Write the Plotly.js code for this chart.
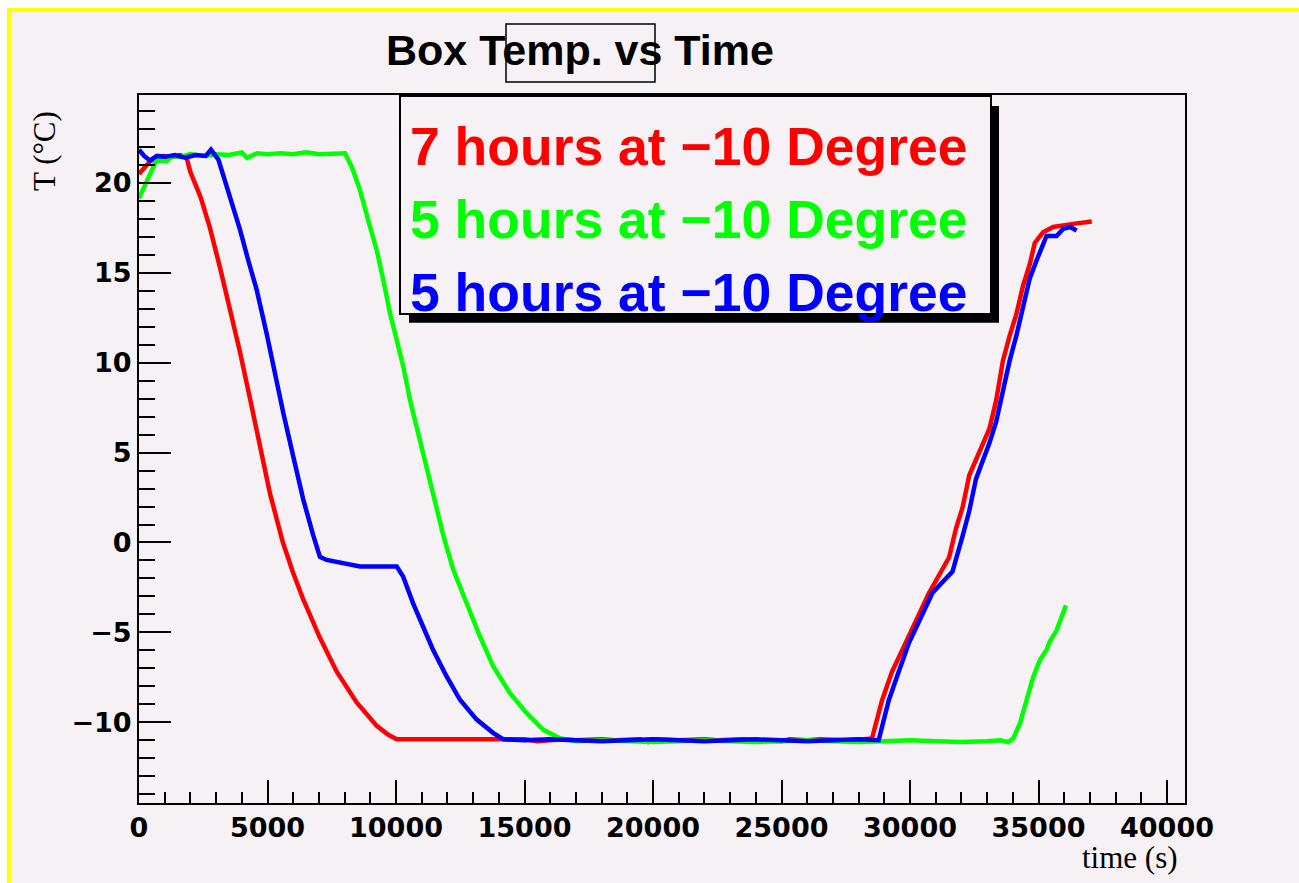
<!DOCTYPE html>
<html>
<head>
<meta charset="utf-8">
<script src="https://cdn.plot.ly/plotly-3.0.1.min.js"></script>
<style>html,body{margin:0;padding:0;background:#fff;}#chart{width:1299px;height:883px;}</style>
</head>
<body>
<div id="chart"></div>
<script>
// ---- data (time in s, temperature in °C) ----
const seriesNames = ["7 hours at \u221210 Degree", "5 hours at \u221210 Degree", "5 hours at \u221210 Degree"];
const seriesColors = ["#FF0000", "#00FF00", "#0000FF"];

const redTime = [0, 230, 430, 700, 950, 1300, 1600, 1850, 2000, 2400, 2760, 3150, 3600, 3930, 4320, 4710, 5100, 5600, 6000, 6400, 7040, 7700, 8470, 9250, 9700, 10030, 10500, 11000, 12000, 12500, 13500, 14000, 15000, 15500, 16500, 17000, 18000, 18500, 19500, 19800, 20000, 21000, 22000, 22500, 23500, 24000, 25000, 25300, 26000, 26500, 27500, 28200, 28520, 28914, 29303, 29696, 30088, 30739, 31132, 31524, 31786, 32047, 32307, 32829, 33090, 33353, 33614, 33875, 34136, 34396, 34657, 34855, 35178, 35571, 35964, 36485, 37072];
const redTemp = [20.5, 20.9, 21.2, 21.4, 21.5, 21.45, 21.55, 21.4, 20.6, 19.2, 17.5, 15.3, 12.7, 10.6, 8.0, 5.2, 2.7, 0.0, -1.7, -3.2, -5.3, -7.2, -8.9, -10.2, -10.7, -10.95, -10.95, -11.0, -10.95, -11.0, -10.95, -11.0, -10.95, -11.05, -10.95, -11.0, -10.95, -11.0, -10.95, -11.1, -10.95, -11.0, -10.95, -11.0, -10.95, -11.0, -11.05, -10.95, -11.0, -10.95, -11.0, -10.95, -10.9, -8.77, -7.18, -5.99, -4.8, -2.81, -1.82, -0.82, 0.76, 1.96, 3.74, 5.53, 6.33, 7.91, 10.1, 11.49, 12.68, 14.27, 15.46, 16.66, 17.25, 17.55, 17.65, 17.75, 17.85];

const greenTime = [0, 350, 690, 1080, 1300, 1600, 2000, 2500, 3000, 3500, 4000, 4200, 4600, 5000, 5500, 6000, 6500, 7000, 7500, 8015, 8276, 8600, 8988, 9248, 9507, 9766, 10027, 10284, 10545, 10805, 11062, 11323, 11583, 11840, 12230, 12751, 13268, 13786, 14436, 15086, 15731, 16381, 17000, 18000, 19000, 20000, 21000, 22000, 23000, 24000, 25000, 26000, 27000, 28000, 29000, 30000, 31000, 32000, 33000, 33500, 33813, 34020, 34280, 34540, 34798, 35058, 35319, 35440, 35700, 36070];
const greenTemp = [19.15, 20.2, 21.3, 21.2, 21.5, 21.45, 21.6, 21.5, 21.6, 21.55, 21.7, 21.4, 21.65, 21.6, 21.65, 21.6, 21.7, 21.6, 21.65, 21.65, 20.9, 19.6, 17.57, 16.27, 14.6, 12.75, 11.27, 9.78, 7.93, 6.45, 4.78, 3.3, 2.0, 0.4, -1.52, -3.38, -5.23, -6.9, -8.38, -9.49, -10.42, -10.89, -11.05, -11.0, -11.05, -11.1, -11.05, -11.0, -11.05, -11.1, -11.05, -11.0, -11.05, -11.1, -11.05, -11.0, -11.05, -11.1, -11.05, -11.0, -11.1, -10.9, -10.05, -8.75, -7.46, -6.53, -5.97, -5.5, -4.9, -3.5];

const blueTime = [0, 200, 430, 700, 1000, 1400, 1800, 2200, 2600, 2800, 3090, 3475, 3930, 4250, 4580, 4970, 5230, 5615, 6000, 6390, 6780, 7040, 7300, 7600, 7950, 8300, 8600, 9300, 10030, 10280, 10670, 11060, 11450, 11970, 12490, 13140, 13790, 14180, 15000, 16000, 17000, 18000, 19000, 20000, 21000, 22000, 23000, 24000, 25000, 26000, 27000, 28000, 28780, 29175, 29564, 29957, 30350, 30871, 31260, 31653, 32047, 32307, 32568, 33090, 33353, 33614, 33875, 34136, 34396, 34657, 34918, 35178, 35311, 35704, 35964, 36225, 36485];
const blueTemp = [21.85, 21.5, 21.25, 21.5, 21.45, 21.55, 21.4, 21.55, 21.5, 21.85, 21.3, 19.6, 17.4, 15.7, 14.05, 11.6, 9.8, 7.2, 4.8, 2.4, 0.4, -0.8, -0.97, -1.05, -1.15, -1.25, -1.34, -1.34, -1.34, -1.9, -3.4, -4.7, -6.0, -7.45, -8.75, -9.85, -10.6, -10.95, -11.0, -10.95, -11.0, -11.05, -11.0, -10.95, -11.0, -11.05, -11.0, -10.95, -11.0, -11.05, -11.0, -10.95, -11.0, -8.77, -7.18, -5.59, -4.4, -2.81, -2.21, -1.62, 0.37, 1.76, 3.54, 5.53, 6.72, 8.51, 10.1, 11.49, 13.08, 14.67, 15.66, 16.66, 17.05, 17.05, 17.45, 17.55, 17.35];

const xTickStep = 5000, xMinorStep = 1000;
const yTickStep = 5, yMinorStep = 1;
const xRange = [0, 40700];
const yRange = [-14.49, 24.89];

// ---- pixel helpers for decorations (plot frame: 139..1185 x 95..803) ----
const FL = 139, FR = 1185, FT = 95, FB = 803;
const px = v => (v - FL) / (FR - FL);
const py = v => (FB - v) / (FB - FT);
const BG = "#F5F1F5";

const traces = [
  {x: redTime, y: redTemp, name: seriesNames[0]},
  {x: greenTime, y: greenTemp, name: seriesNames[1]},
  {x: blueTime, y: blueTemp, name: seriesNames[2]}
].map((t, i) => Object.assign(t, {
  type: "scatter", mode: "lines",
  line: {color: seriesColors[i], width: 4.5},
  hoverinfo: "skip"
}));

const tickFont = {family: "DejaVu Sans", size: 27, weight: "bold", color: "#000"};

const layout = {
  width: 1299, height: 883,
  margin: {l: FL, r: 1299 - FR, t: FT, b: 883 - FB, pad: 0},
  paper_bgcolor: "#FFFFFF",
  plot_bgcolor: "rgba(0,0,0,0)",
  showlegend: false,
  xaxis: {
    range: xRange, tick0: 0, dtick: xTickStep, tickformat: "d",
    ticks: "inside", ticklen: 23, tickwidth: 2, tickcolor: "#000",
    minor: {dtick: xMinorStep, ticks: "inside", ticklen: 11, tickwidth: 2, tickcolor: "#000", showgrid: false},
    showline: true, linewidth: 2, linecolor: "#000", mirror: true,
    showgrid: false, zeroline: false, tickfont: tickFont
  },
  yaxis: {
    range: yRange, tick0: 0, dtick: yTickStep,
    ticks: "inside", ticklen: 32, tickwidth: 2, tickcolor: "#000",
    minor: {dtick: yMinorStep, ticks: "inside", ticklen: 16, tickwidth: 2, tickcolor: "#000", showgrid: false},
    showline: true, linewidth: 2, linecolor: "#000", mirror: true,
    showgrid: false, zeroline: false, tickfont: tickFont
  },
  shapes: [
    {type: "rect", xref: "paper", yref: "paper", layer: "below",
     x0: px(9), x1: px(1320), y0: py(910), y1: py(10),
     fillcolor: BG, line: {color: "#FFFF00", width: 4}},
    {type: "rect", xref: "paper", yref: "paper", layer: "above",
     x0: px(409), x1: px(999), y0: py(322.7), y1: py(106),
     fillcolor: "#000", line: {width: 0}},
    {type: "rect", xref: "paper", yref: "paper", layer: "above",
     x0: px(400), x1: px(991), y0: py(314), y1: py(96),
     fillcolor: BG, line: {color: "#000", width: 2}},
    {type: "rect", xref: "paper", yref: "paper", layer: "above",
     x0: px(506), x1: px(655), y0: py(82), y1: py(24),
     line: {color: "#000", width: 1.5}}
  ],
  annotations: [
    {text: "Box Temp. vs Time", xref: "paper", yref: "paper", x: px(580), y: py(50),
     xanchor: "center", yanchor: "middle", showarrow: false,
     font: {family: "Liberation Sans", size: 43, weight: "bold", color: "#000"}},
    {text: seriesNames[0], xref: "paper", yref: "paper", x: px(408), y: py(146.5),
     xanchor: "left", yanchor: "middle", showarrow: false,
     font: {family: "Liberation Sans", size: 53.5, weight: "bold", color: seriesColors[0]}},
    {text: seriesNames[1], xref: "paper", yref: "paper", x: px(408), y: py(219.5),
     xanchor: "left", yanchor: "middle", showarrow: false,
     font: {family: "Liberation Sans", size: 53.5, weight: "bold", color: seriesColors[1]}},
    {text: seriesNames[2], xref: "paper", yref: "paper", x: px(408), y: py(292.5),
     xanchor: "left", yanchor: "middle", showarrow: false,
     font: {family: "Liberation Sans", size: 53.5, weight: "bold", color: seriesColors[2]}},
    {text: "T (\u00B0C)", xref: "paper", yref: "paper", x: px(44), y: py(151),
     xanchor: "center", yanchor: "middle", textangle: -90, showarrow: false,
     font: {family: "Liberation Serif", size: 31, color: "#000"}},
    {text: "time (s)", xref: "paper", yref: "paper", x: px(1180), y: py(857),
     xanchor: "right", yanchor: "middle", showarrow: false,
     font: {family: "Liberation Serif", size: 31, color: "#000"}}
  ]
};

Plotly.newPlot("chart", traces, layout, {staticPlot: true, displayModeBar: false});
</script>
</body>
</html>
